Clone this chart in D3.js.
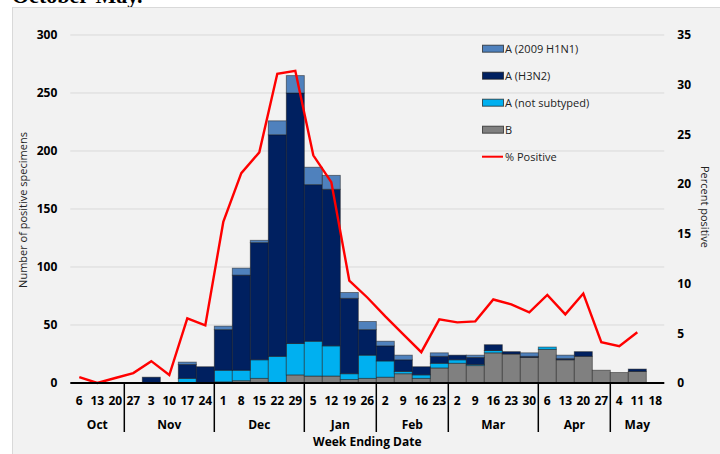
<!DOCTYPE html>
<html>
<head>
<meta charset="utf-8">
<script src="https://cdn.jsdelivr.net/npm/d3@7"></script>
<style>
  body { margin: 0; background: #fff; }
  text { font-family: "Open Sans", "Noto Sans", sans-serif; }
</style>
</head>
<body>
<div class="chart"></div>
<script>
let FRAME_WIDTH = 720;
let FRAME_HEIGHT = 454;
let PLOT = {left: 70.3, right: 664.3, top: 35, bottom: 383};

// week ending dates (day of month), grouped by month
const weeks = ["6","13","20","27","3","10","17","24","1","8","15","22","29","5","12","19","26",
               "2","9","16","23","2","9","16","23","30","6","13","20","27","4","11","18"];
const monthNames = ["Oct","Nov","Dec","Jan","Feb","Mar","Apr","May"];
const monthWeeks = [3, 5, 5, 4, 4, 5, 4, 3];

// positive specimens per week, by type
const fluB     = [0,0,0,0,0,0,0,0,1,2,4,0,7,6,6,3,4,5,8,4,13,17,15,26,25,22,29,20,23,11,9,10,0];
const notSub   = [0,0,0,0,0,0,4,0,10,9,16,23,27,30,26,5,20,14,2,3,4,3,1,2,0,0,2,0,0,0,0,0,0];
const h3n2     = [0,0,0,0,5,0,12,14,35,82,101,191,216,135,135,65,22,13,10,7,6,4,6,5,2,1,0,1,4,0,0,2,0];
const h1n1     = [0,0,0,0,0,0,2,0,3,6,2,12,15,15,12,5,7,4,4,0,3,0,2,0,0,3,0,3,0,0,0,0,0];
// percent positive
const pctPos   = [0.6,0,0.5,1.0,2.2,0.8,6.5,5.8,16.2,21.1,23.2,31.1,31.4,22.9,20.2,10.3,8.6,6.7,4.9,3.1,
                  6.4,6.1,6.2,8.4,7.9,7.1,8.85,6.9,9.0,4.1,3.7,5.1,null];

const leftTicks = [0,50,100,150,200,250,300];
const rightTicks = [0,5,10,15,20,25,30,35];

const seriesKeys = ["B","NS","H3N2","H1N1"];
const seriesColors = {"B": "#808080", "NS": "#00b0f0", "H3N2": "#002060", "H1N1": "#4f81bd"};
const legendItems = [
  {key: "H1N1", label: "A (2009 H1N1)"},
  {key: "H3N2", label: "A (H3N2)"},
  {key: "NS", label: "A (not subtyped)"},
  {key: "B", label: "B"},
  {key: "pct", label: "% Positive"}
];

let rows = weeks.map((w, i) => ({i: i, B: fluB[i], NS: notSub[i], H3N2: h3n2[i], H1N1: h1n1[i]}));

let FRAME = d3.select(".chart")
              .append("svg")
              .attr("width", FRAME_WIDTH)
              .attr("height", FRAME_HEIGHT);

// cut-off title from the page above
FRAME.append("text")
     .attr("x", 12)
     .attr("y", 3)
     .style("font-family", "'Liberation Serif', serif")
     .style("font-weight", "bold")
     .style("font-size", "22px")
     .text("October-May.");

// chart area background
FRAME.append("rect")
     .attr("x", 12.5).attr("y", 7.5)
     .attr("width", 710).attr("height", 450)
     .attr("fill", "#f2f2f2")
     .attr("stroke", "#d9d9d9");

const X_SCALE = d3.scaleBand()
                  .domain(d3.range(weeks.length))
                  .range([PLOT.left, PLOT.right])
                  .padding(0);

const Y_SCALE = d3.scaleLinear()
                  .domain([0, 300])
                  .range([PLOT.bottom, PLOT.top]);

const Y_RIGHT = d3.scaleLinear()
                  .domain([0, 35])
                  .range([PLOT.bottom, PLOT.top]);

// gridlines
FRAME.append("g")
     .selectAll("line")
     .data(leftTicks.filter(t => t > 0))
     .enter()
     .append("line")
       .attr("x1", PLOT.left)
       .attr("x2", PLOT.right)
       .attr("y1", d => Y_SCALE(d))
       .attr("y2", d => Y_SCALE(d))
       .attr("stroke", "#d9d9d9")
       .attr("stroke-width", 1);

// stacked bars
const stacked = d3.stack().keys(seriesKeys)(rows);

FRAME.append("g")
     .selectAll("g")
     .data(stacked)
     .enter()
     .append("g")
       .attr("fill", d => seriesColors[d.key])
     .selectAll("rect")
     .data(d => d.filter(s => s[1] - s[0] > 0))
     .enter()
     .append("rect")
       .attr("x", d => X_SCALE(d.data.i))
       .attr("y", d => Y_SCALE(d[1]))
       .attr("width", X_SCALE.bandwidth())
       .attr("height", d => Y_SCALE(d[0]) - Y_SCALE(d[1]))
       .attr("stroke", "#1a1a1a")
       .attr("stroke-opacity", 0.55)
       .attr("stroke-width", 0.9);

// percent positive line
const pctLine = d3.line()
                  .defined(d => d != null)
                  .x((d, i) => X_SCALE(i) + X_SCALE.bandwidth() / 2)
                  .y(d => Y_RIGHT(d));

FRAME.append("path")
     .datum(pctPos)
     .attr("d", pctLine)
     .attr("fill", "none")
     .attr("stroke", "#ff0000")
     .attr("stroke-width", 2.4)
     .attr("stroke-linejoin", "miter");

// left axis
let leftAxis = FRAME.append("g")
     .attr("transform", "translate(" + PLOT.left + ",0)")
     .call(d3.axisLeft(Y_SCALE).tickValues(leftTicks).tickSize(0).tickPadding(13));
leftAxis.select(".domain").remove();
leftAxis.selectAll("text")
        .attr("font-size", "12px").attr("font-weight", "bold").attr("fill", "#000")
        .style("font-family", "'Open Sans', sans-serif");

// right axis
let rightAxis = FRAME.append("g")
     .attr("transform", "translate(" + PLOT.right + ",0)")
     .call(d3.axisRight(Y_RIGHT).tickValues(rightTicks).tickSize(0).tickPadding(13));
rightAxis.select(".domain").remove();
rightAxis.selectAll("text")
         .attr("font-size", "12px").attr("font-weight", "bold").attr("fill", "#000")
         .style("font-family", "'Open Sans', sans-serif");

// bottom axis: week labels
let bottomAxis = FRAME.append("g")
     .attr("transform", "translate(0," + PLOT.bottom + ")")
     .call(d3.axisBottom(X_SCALE).tickFormat(i => weeks[i]).tickSize(0).tickPadding(13));
bottomAxis.select(".domain").remove();
bottomAxis.selectAll("text")
          .attr("font-size", "12px").attr("font-weight", "bold").attr("fill", "#000")
          .style("font-family", "'Open Sans', sans-serif");

FRAME.append("line")
     .attr("x1", PLOT.left).attr("x2", PLOT.right)
     .attr("y1", PLOT.bottom).attr("y2", PLOT.bottom)
     .attr("stroke", "#000").attr("stroke-width", 2);

// month groups and separators
let start = 0;
monthNames.forEach((m, k) => {
  const x0 = X_SCALE(start);
  const x1 = X_SCALE(start + monthWeeks[k] - 1) + X_SCALE.bandwidth();
  FRAME.append("text")
       .attr("x", (x0 + x1) / 2)
       .attr("y", 428.5)
       .attr("text-anchor", "middle")
       .style("font-size", "12px")
       .style("font-weight", "bold")
       .text(m);
  if (k > 0) {
    FRAME.append("line")
         .attr("x1", x0).attr("x2", x0)
         .attr("y1", PLOT.bottom).attr("y2", 432)
         .attr("stroke", "#000").attr("stroke-width", 1.5);
  }
  start += monthWeeks[k];
});

// axis titles
FRAME.append("text")
     .attr("x", (PLOT.left + PLOT.right) / 2)
     .attr("y", 446)
     .attr("text-anchor", "middle")
     .style("font-size", "12px")
     .style("font-weight", "bold")
     .text("Week Ending Date");

FRAME.append("text")
     .attr("transform", "translate(27,210) rotate(-90)")
     .attr("text-anchor", "middle")
     .style("font-size", "11px")
     .attr("fill", "#222")
     .text("Number of positive specimens");

FRAME.append("text")
     .attr("transform", "translate(701,207) rotate(90)")
     .attr("text-anchor", "middle")
     .style("font-size", "11px")
     .attr("fill", "#222")
     .text("Percent positive");

// legend
let legend = FRAME.append("g").attr("transform", "translate(482,0)");
legendItems.forEach((item, k) => {
  const cy = 48.7 + k * 27;
  if (item.key === "pct") {
    legend.append("line")
          .attr("x1", 0).attr("x2", 21)
          .attr("y1", cy).attr("y2", cy)
          .attr("stroke", "#ff0000").attr("stroke-width", 2);
  } else {
    legend.append("rect")
          .attr("x", 0.5).attr("y", cy - 3.5)
          .attr("width", 21).attr("height", 7)
          .attr("fill", seriesColors[item.key])
          .attr("stroke", "#1a1a1a").attr("stroke-opacity", 0.7);
  }
  legend.append("text")
        .attr("x", 23)
        .attr("y", cy + 4)
        .style("font-size", "11px")
        .attr("fill", "#222")
        .text(item.label);
});
</script>
</body>
</html>
